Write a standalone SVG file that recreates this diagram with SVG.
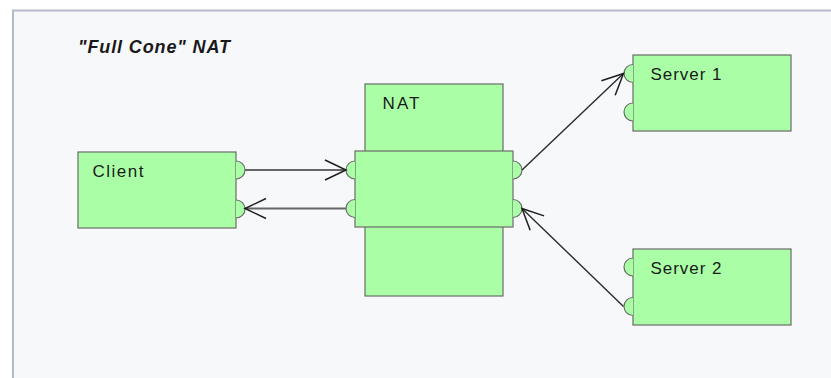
<svg xmlns="http://www.w3.org/2000/svg" width="831" height="378" viewBox="0 0 831 378">
  <defs>
    <style>
      .box { fill: #aaffa6; stroke: #6b6b6b; stroke-width: 1.2; }
      .port { fill: #aaffa6; stroke: #6b6b6b; stroke-width: 1.2; }
      .label { font-family: "Liberation Sans", Arial, sans-serif; font-size: 17px; fill: #1a1a1a; }
      .title { font-family: "Liberation Sans", Arial, sans-serif; font-size: 18px; font-weight: bold; font-style: italic; fill: #1a1a1a; }
      .flat { fill: none; stroke: #666; stroke-width: 2.2; }
      .slant { fill: none; stroke: #2a2a2a; stroke-width: 1.4; }
    </style>
    <marker id="open" markerUnits="userSpaceOnUse" viewBox="-23 -12 25 24" markerWidth="25" markerHeight="24" refX="0" refY="0" orient="auto" overflow="visible">
      <path d="M-21,-10 L0,0 L-21,10" fill="none" stroke="#1e1e1e" stroke-width="1.5"/>
    </marker>
  </defs>

  <!-- canvas and frame -->
  <rect x="0" y="0" width="831" height="378" fill="#ffffff"/>
  <rect x="12.5" y="10.5" width="818.5" height="367.5" fill="#f7f8fa"/>
  <line x1="12" y1="10.5" x2="831" y2="10.5" stroke="#b4bac6" stroke-width="2"/>
  <line x1="13" y1="10" x2="13" y2="378" stroke="#b4bac6" stroke-width="2"/>

  <text class="title" x="78" y="53" textLength="152" lengthAdjust="spacing">"Full Cone" NAT</text>

  <g id="client">
    <rect class="box" x="78" y="152" width="158" height="76"/>
    <path class="port" d="M236,161 A9,9 0 0 1 236,179"/>
    <path class="port" d="M236,200 A9,9 0 0 1 236,218"/>
    <text class="label" x="92.5" y="176.5" textLength="51" lengthAdjust="spacing">Client</text>
  </g>

  <g id="nat">
    <rect class="box" x="365" y="84" width="138" height="212"/>
    <rect class="box" x="355" y="151" width="158" height="76"/>
    <path class="port" d="M355,161 A9,9 0 0 0 355,179"/>
    <path class="port" d="M355,199.5 A9,9 0 0 0 355,217.5"/>
    <path class="port" d="M513,161 A9,9 0 0 1 513,179"/>
    <path class="port" d="M513,199.5 A9,9 0 0 1 513,217.5"/>
    <text class="label" x="382.5" y="108.5" textLength="37" lengthAdjust="spacing">NAT</text>
  </g>

  <g id="server1">
    <rect class="box" x="633" y="55" width="158" height="76"/>
    <path class="port" d="M633,64.5 A9,9 0 0 0 633,82.5"/>
    <path class="port" d="M633,103 A9,9 0 0 0 633,121"/>
    <text class="label" x="650.5" y="80" textLength="71" lengthAdjust="spacing">Server 1</text>
  </g>

  <g id="server2">
    <rect class="box" x="633" y="249" width="158" height="76"/>
    <path class="port" d="M633,258 A9,9 0 0 0 633,276"/>
    <path class="port" d="M633,297.5 A9,9 0 0 0 633,315.5"/>
    <text class="label" x="650.5" y="274" textLength="71" lengthAdjust="spacing">Server 2</text>
  </g>

  <g id="connectors">
    <line class="flat" x1="245" y1="170" x2="346" y2="170" marker-end="url(#open)"/>
    <line class="flat" x1="346" y1="208.5" x2="245" y2="208.5" marker-end="url(#open)"/>
    <line class="slant" x1="522" y1="170" x2="623.5" y2="73.5" marker-end="url(#open)"/>
    <line class="slant" x1="623.5" y1="306.5" x2="522" y2="208.5" marker-end="url(#open)"/>
  </g>
</svg>
